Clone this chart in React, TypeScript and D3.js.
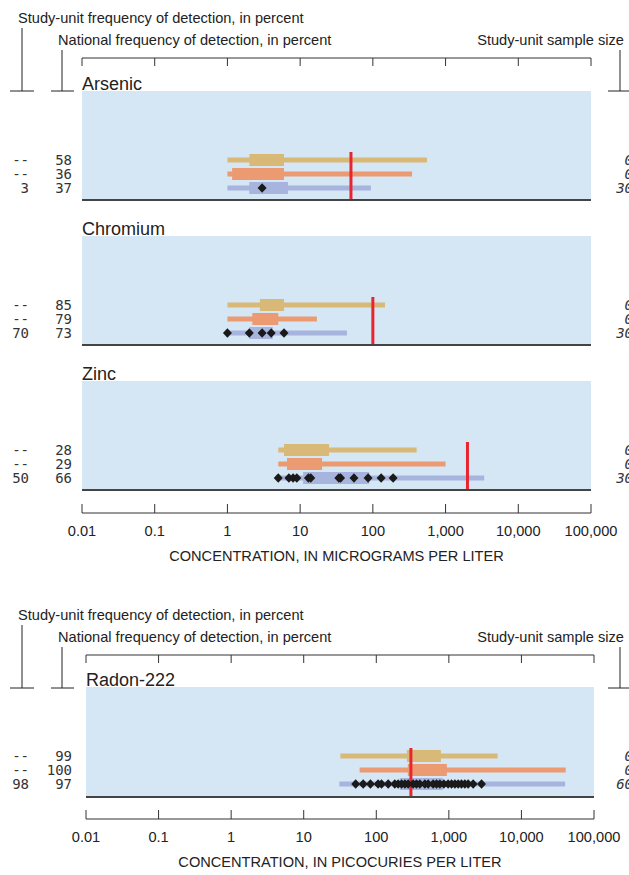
import React from "react";
import * as d3 from "d3";

// ---------- data ----------
const tickValues = [0.01, 0.1, 1, 10, 100, 1000, 10000, 100000];

const metals = ["Arsenic", "Chromium", "Zinc"];
// rows: [yellow, orange, blue]
const metalStudyFreq = [["--", "--", "3"], ["--", "--", "70"], ["--", "--", "50"]];
const metalNationalFreq = [["58", "36", "37"], ["85", "79", "73"], ["28", "29", "66"]];
const metalSampleSize = [["0", "0", "30"], ["0", "0", "30"], ["0", "0", "30"]];
const metalRangeMin = [[1, 1, 1], [1, 1, 1], [5, 5, 5]];
const metalRangeMax = [[556, 346, 94], [147, 17, 44], [400, 1000, 3400]];
const metalBoxLow = [[2, 1.16, 2], [2.8, 2.2, 2], [6, 6.6, 11]];
const metalBoxHigh = [[6, 6, 6.8], [6, 5, 4.2], [25, 20, 89]];
const metalBenchmark = [50, 100, 2000];
const metalDetections = [
  [3],
  [1, 2, 3, 4, 6],
  [5, 7, 8, 9, 13, 14, 34, 36, 55, 86, 130, 190],
];

const radonName = "Radon-222";
const radonStudyFreq = ["--", "--", "98"];
const radonNationalFreq = ["99", "100", "97"];
const radonSampleSize = ["0", "0", "60"];
const radonRangeMin = [32, 59, 31];
const radonRangeMax = [4700, 40700, 40000];
const radonBoxLow = [264, 272, 211];
const radonBoxHigh = [777, 938, 826];
const radonBenchmark = 300;
const radonDetections = [
  52, 66, 83, 106, 118, 146, 180, 200, 223, 248, 275, 322, 358, 398, 467, 519,
  608, 676, 752, 853, 977, 1088, 1211, 1345, 1494, 1660, 1846, 2163, 2820,
];

// ---------- style ----------
const rowColors = ["#d9b978", "#ec9a72", "#a7b4de"];
const panelFill = "#d5e6f5";
const redColor = "#e8252f";
const sans = "'Liberation Sans', Arial, Helvetica, sans-serif";
const mono = "'DejaVu Sans Mono', monospace";
const textColor = "#222";
const fs = 14.6;

const fmtTick = (v: number) => (v < 1 ? String(v) : d3.format(",")(v));

type PanelProps = {
  x: d3.ScaleLogarithmic<number, number>;
  top: number;
  height: number;
  name: string;
  studyFreq: string[];
  nationalFreq: string[];
  sampleSize: string[];
  rangeMin: number[];
  rangeMax: number[];
  boxLow: number[];
  boxHigh: number[];
  benchmark: number;
  detections: number[];
};

function Panel(p: PanelProps) {
  const [x0, x1] = p.x.range();
  const rowY = [p.top + 69, p.top + 83, p.top + 97];
  const bottom = p.top + p.height;
  const diamond = "M0,-4.8L4.5,0L0,4.8L-4.5,0Z";
  return (
    <g>
      <text x={x0} y={p.top - 1} fontFamily={sans} fontSize={18} fill={textColor}>
        {p.name}
      </text>
      <rect x={x0} y={p.top} width={x1 - x0} height={p.height} fill={panelFill} />
      {rowY.map((y, i) => (
        <g key={i}>
          <rect
            x={p.x(p.rangeMin[i])}
            y={y - 2.5}
            width={p.x(p.rangeMax[i]) - p.x(p.rangeMin[i])}
            height={5}
            fill={rowColors[i]}
          />
          <rect
            x={p.x(p.boxLow[i])}
            y={y - 6}
            width={p.x(p.boxHigh[i]) - p.x(p.boxLow[i])}
            height={12}
            fill={rowColors[i]}
          />
          <text x={29} y={y + 5} textAnchor="end" fontFamily={mono} fontSize={14} fill="#333">
            {p.studyFreq[i]}
          </text>
          <text x={72} y={y + 5} textAnchor="end" fontFamily={mono} fontSize={14} fill="#333">
            {p.nationalFreq[i]}
          </text>
          <text
            x={633}
            y={y + 5}
            textAnchor="end"
            fontFamily={mono}
            fontStyle="italic"
            fontSize={14}
            fill="#333"
          >
            {p.sampleSize[i]}
          </text>
        </g>
      ))}
      <line
        x1={p.x(p.benchmark)}
        x2={p.x(p.benchmark)}
        y1={rowY[0] - 8}
        y2={bottom - 1}
        stroke={redColor}
        strokeWidth={3}
      />
      {p.detections.map((d, i) => (
        <path key={i} d={diamond} transform={`translate(${p.x(d)},${rowY[2]})`} fill="#1a1a1a" />
      ))}
      <line x1={x0} x2={x1} y1={bottom} y2={bottom} stroke="#444" strokeWidth={2} />
    </g>
  );
}

function Header({ x, top }: { x: d3.ScaleLogarithmic<number, number>; top: number }) {
  // top = y of the top axis line
  const [x0, x1] = x.range();
  const foot = top + 33;
  return (
    <g>
      <text x={18} y={top - 35} fontFamily={sans} fontSize={fs} fill={textColor}>
        Study-unit frequency of detection, in percent
      </text>
      <text x={58} y={top - 13} fontFamily={sans} fontSize={fs} fill={textColor}>
        National frequency of detection, in percent
      </text>
      <text x={624} y={top - 13} textAnchor="end" fontFamily={sans} fontSize={fs} fill={textColor}>
        Study-unit sample size
      </text>
      {/* brackets */}
      <line x1={22} x2={22} y1={top - 30} y2={foot} stroke="#222" />
      <line x1={10} x2={34} y1={foot} y2={foot} stroke="#222" />
      <line x1={62} x2={62} y1={top - 8} y2={foot} stroke="#222" />
      <line x1={51} x2={74} y1={foot} y2={foot} stroke="#222" />
      <line x1={620} x2={620} y1={top - 8} y2={foot} stroke="#222" />
      <line x1={608} x2={632} y1={foot} y2={foot} stroke="#222" />
      {/* top axis */}
      <line x1={x0} x2={x1} y1={top} y2={top} stroke="#333" />
      {tickValues.map((t) => (
        <line key={t} x1={x(t)} x2={x(t)} y1={top} y2={top + 8} stroke="#333" />
      ))}
    </g>
  );
}

function BottomAxis({
  x,
  y,
  title,
}: {
  x: d3.ScaleLogarithmic<number, number>;
  y: number;
  title: string;
}) {
  const [x0, x1] = x.range();
  return (
    <g>
      <line x1={x0} x2={x1} y1={y} y2={y} stroke="#333" />
      {tickValues.map((t) => (
        <g key={t}>
          <line x1={x(t)} x2={x(t)} y1={y} y2={y - 9} stroke="#333" />
          <text x={x(t)} y={y + 23} textAnchor="middle" fontFamily={sans} fontSize={fs} fill={textColor}>
            {fmtTick(t)}
          </text>
        </g>
      ))}
      <text
        x={(x0 + x1) / 2}
        y={y + 48}
        textAnchor="middle"
        fontFamily={sans}
        fontSize={fs}
        fill={textColor}
      >
        {title}
      </text>
    </g>
  );
}

export default function App() {
  const xTop = d3.scaleLog().domain([0.01, 100000]).range([82, 591]);
  const xRad = d3.scaleLog().domain([0.01, 100000]).range([86, 594]);
  const panelTops = [91, 236, 381];
  return (
    <svg
      width={629}
      height={875}
      style={{ position: "absolute", left: 0, top: 0, background: "#fff" }}
    >
      <Header x={xTop} top={58} />
      {metals.map((m, k) => (
        <Panel
          key={m}
          x={xTop}
          top={panelTops[k]}
          height={109}
          name={m}
          studyFreq={metalStudyFreq[k]}
          nationalFreq={metalNationalFreq[k]}
          sampleSize={metalSampleSize[k]}
          rangeMin={metalRangeMin[k]}
          rangeMax={metalRangeMax[k]}
          boxLow={metalBoxLow[k]}
          boxHigh={metalBoxHigh[k]}
          benchmark={metalBenchmark[k]}
          detections={metalDetections[k]}
        />
      ))}
      <BottomAxis x={xTop} y={513} title="CONCENTRATION, IN MICROGRAMS PER LITER" />

      <Header x={xRad} top={655} />
      <Panel
        x={xRad}
        top={687}
        height={110}
        name={radonName}
        studyFreq={radonStudyFreq}
        nationalFreq={radonNationalFreq}
        sampleSize={radonSampleSize}
        rangeMin={radonRangeMin}
        rangeMax={radonRangeMax}
        boxLow={radonBoxLow}
        boxHigh={radonBoxHigh}
        benchmark={radonBenchmark}
        detections={radonDetections}
      />
      <BottomAxis x={xRad} y={819} title="CONCENTRATION, IN PICOCURIES PER LITER" />
    </svg>
  );
}
